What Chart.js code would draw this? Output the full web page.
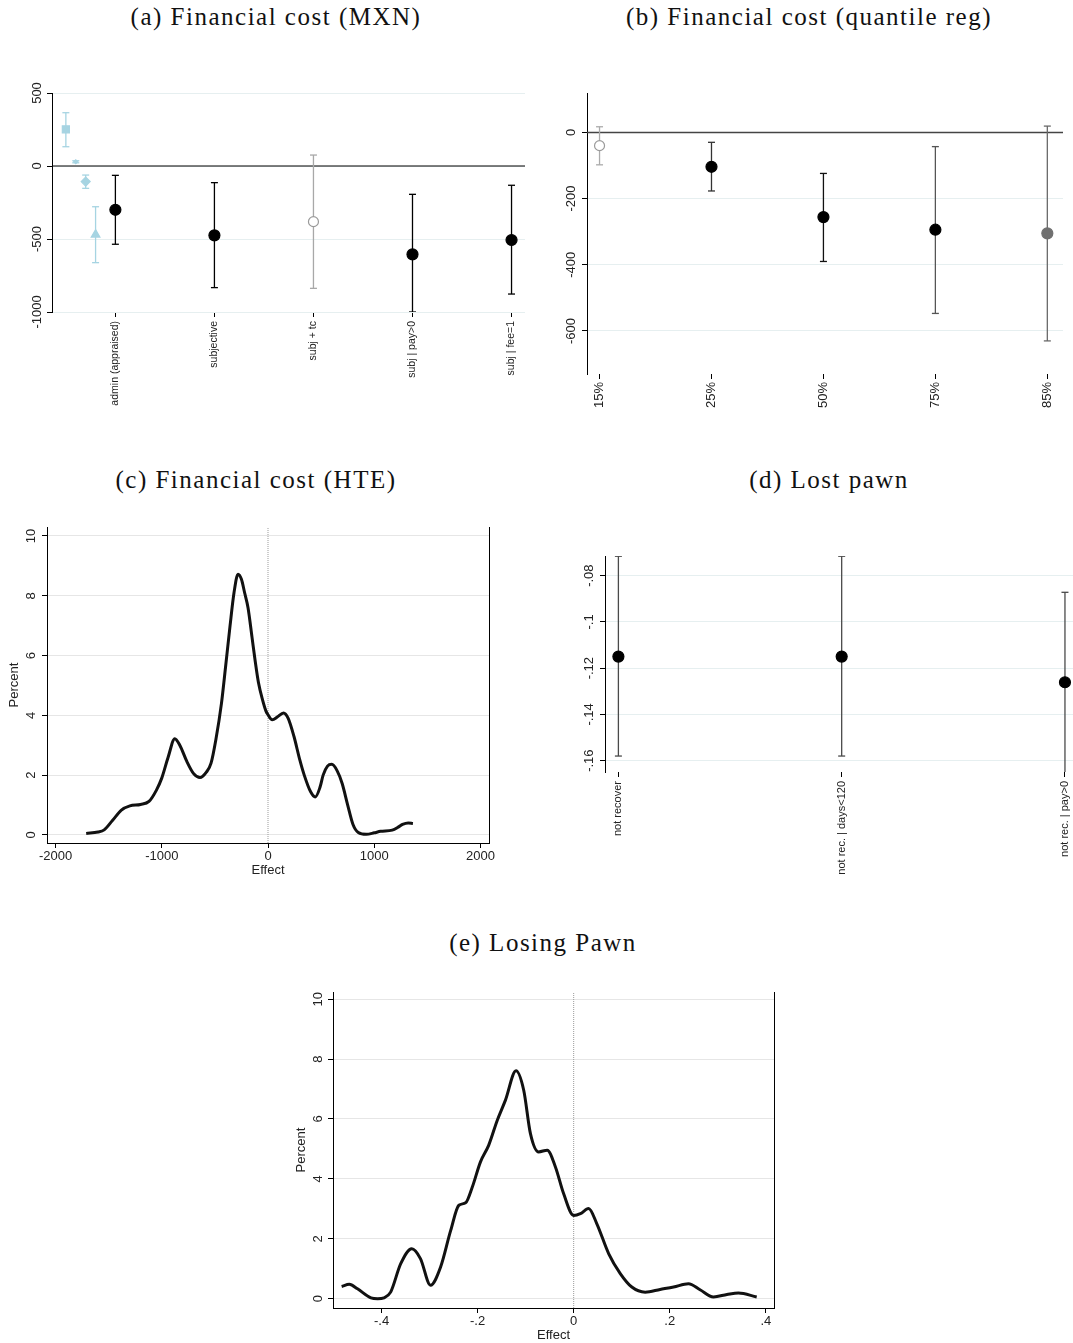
<!DOCTYPE html>
<html lang="en">
<head>
<meta charset="UTF-8" />
<title>Financial cost and lost pawn</title>
<script src="https://cdn.jsdelivr.net/npm/chart.js"></script>
<style>
  body { margin: 0; background: #fff; }
  .page { position: relative; width: 1073px; height: 1343px; overflow: hidden; background: #fff; }
  .panel { position: absolute; }
  .title {
    position: absolute; width: 500px; text-align: center;
    font-family: "Liberation Serif", "Times New Roman", serif;
    font-size: 25px; letter-spacing: 1.5px; line-height: 30px; color: #111;
  }
</style>
</head>
<body>
<div class="page">
  <div class="title" style="left:26px;top:2px">(a) Financial cost (MXN)</div>
  <div class="title" style="left:559px;top:2px">(b) Financial cost (quantile reg)</div>
  <div class="title" style="left:6px;top:465px">(c) Financial cost (HTE)</div>
  <div class="title" style="left:579px;top:465px">(d) Lost pawn</div>
  <div class="title" style="left:293px;top:928px">(e) Losing Pawn</div>

  <canvas id="chartA" class="panel" width="540" height="380" style="left:0;top:60px"></canvas>
  <canvas id="chartB" class="panel" width="533" height="380" style="left:540px;top:60px"></canvas>
  <canvas id="chartC" class="panel" width="540" height="372" style="left:0;top:510px"></canvas>
  <canvas id="chartD" class="panel" width="533" height="340" style="left:540px;top:540px"></canvas>
  <canvas id="chartE" class="panel" width="514" height="368" style="left:286px;top:975px"></canvas>
</div>

<script>
// (a) financial cost in pesos, point estimates with 95% CI
const aCats = ['admin (appraised)', 'subjective', 'subj + tc', 'subj | pay>0', 'subj | fee=1'];
const aCoef = [-300, -475, -381, -605, -507];
const aLo = [-536, -833, -838, -1000, -877];
const aHi = [-64, -114, 75, -194, -132];
// extra light-blue estimates plotted left of the first category
const aAuxX = [0.5, 0.6, 0.7, 0.8];
const aAuxCoef = [251, 29, -107, -470];
const aAuxLo = [132, 22, -153, -662];
const aAuxHi = [365, 36, -62, -279];
const aYTicks = [500, 0, -500, -1000];
const aYLabels = ['500', '0', '-500', '-1000'];

// (b) quantile regressions
const bCats = ['15%', '25%', '50%', '75%', '85%'];
const bCoef = [-40, -104, -256, -294, -305];
const bLo = [-98, -177, -390, -547, -630];
const bHi = [17, -30, -124, -43, 19];
const bYTicks = [0, -200, -400, -600];
const bYLabels = ['0', '-200', '-400', '-600'];

// (c) distribution of heterogeneous effects, financial cost
const cEffect = [-1711, -1600, -1542, -1460, -1380, -1300, -1200, -1120, -1050, -1000, -940, -877, -830, -763, -700,
  -640, -580, -536, -490, -438, -400, -357, -320, -282, -250, -220, -188, -150, -120, -90, -50, -20, 0, 40, 90, 146,
  190, 244, 300, 341, 400, 445, 490, 519, 560, 600, 650, 698, 750, 800, 850, 925, 1000, 1060, 1169, 1230, 1266, 1320, 1364];
const cPercent = [0.05, 0.1, 0.17, 0.5, 0.83, 0.97, 1.02, 1.12, 1.5, 1.9, 2.6, 3.22, 3.0, 2.45, 2.05,
  1.92, 2.1, 2.4, 3.2, 4.4, 5.6, 7.0, 8.1, 8.72, 8.55, 8.1, 7.6, 6.6, 5.8, 5.1, 4.5, 4.15, 4.02, 3.85, 3.95, 4.08,
  3.9, 3.3, 2.5, 2.0, 1.45, 1.27, 1.6, 2.0, 2.3, 2.36, 2.15, 1.72, 1.0, 0.35, 0.08, 0.02, 0.07, 0.12, 0.16, 0.27, 0.35, 0.4, 0.38];
const cXTicks = [-2000, -1000, 0, 1000, 2000];
const cXLabels = ['-2000', '-1000', '0', '1000', '2000'];
const cYTicks = [0, 2, 4, 6, 8, 10];
const cYLabels = ['0', '2', '4', '6', '8', '10'];

// (d) lost pawn
const dCats = ['not recover', 'not rec. | days<120', 'not rec. | pay>0'];
const dCoef = [-0.115, -0.115, -0.1261];
const dLo = [-0.158, -0.158, -0.175];
const dHi = [-0.0716, -0.0716, -0.0872];
const dYTicks = [-0.08, -0.1, -0.12, -0.14, -0.16];
const dYLabels = ['-.08', '-.1', '-.12', '-.14', '-.16'];

// (e) distribution of heterogeneous effects, losing the pawn
const eEffect = [-0.483, -0.467, -0.45, -0.422, -0.408, -0.395, -0.381, -0.36, -0.337, -0.319, -0.298, -0.277, -0.256,
  -0.239, -0.225, -0.211, -0.194, -0.177, -0.159, -0.142, -0.12, -0.104, -0.09, -0.073, -0.055, -0.038, -0.021, 0,
  0.014, 0.031, 0.048, 0.073, 0.097, 0.121, 0.149, 0.18, 0.208, 0.239, 0.263, 0.291, 0.319, 0.343, 0.381];
const ePercent = [0.41, 0.48, 0.33, 0.03, 0.0, 0.03, 0.22, 1.17, 1.67, 1.34, 0.45, 1.06, 2.28,
  3.12, 3.2, 3.73, 4.57, 5.12, 5.96, 6.63, 7.61, 6.96, 5.51, 4.9, 4.96, 4.4, 3.51, 2.78,
  2.84, 3.01, 2.51, 1.5, 0.84, 0.39, 0.22, 0.31, 0.39, 0.5, 0.3, 0.06, 0.14, 0.19, 0.06];
const eXTicks = [-0.4, -0.2, 0, 0.2, 0.4];
const eXLabels = ['-.4', '-.2', '0', '.2', '.4'];
const eYTicks = [0, 2, 4, 6, 8, 10];
const eYLabels = ['0', '2', '4', '6', '8', '10'];

Chart.defaults.font.family = '"Liberation Sans", Arial, Helvetica, sans-serif';
Chart.defaults.font.size = 13;
Chart.defaults.color = '#222';
Chart.defaults.animation = false;
Chart.defaults.plugins.legend.display = false;
Chart.defaults.plugins.tooltip.enabled = false;

const LIGHT_BLUE = '#a6d4e2';
const GRID_BLUE = '#e6eff0';
const GRID_GRAY = '#e6e6e6';

// fixed axis thickness so every plot area lands where it should
function boxSize(size) {
  return function (scale) {
    if (scale.isHorizontal()) scale.height = size; else scale.width = size;
    scale.paddingLeft = scale.paddingRight = scale.paddingTop = scale.paddingBottom = 0;
  };
}
function tickValues(values) {
  return function (scale) { scale.ticks = values.map(v => ({ value: v })); };
}

// y tick labels are written vertically, centred on the tick
function yLabels(values, labels, offset) {
  return {
    id: 'yLabels',
    afterDraw(chart) {
      const scale = chart.scales.y;
      const ctx = chart.ctx;
      ctx.save();
      ctx.font = '13px "Liberation Sans", Arial, sans-serif';
      ctx.fillStyle = '#222';
      ctx.textAlign = 'center';
      ctx.textBaseline = 'middle';
      values.forEach((v, i) => {
        ctx.save();
        ctx.translate(scale.right - offset, scale.getPixelForValue(v));
        ctx.rotate(-Math.PI / 2);
        ctx.fillText(labels[i], 0, 0);
        ctx.restore();
      });
      ctx.restore();
    }
  };
}

const rightFrame = {
  id: 'rightFrame',
  afterDraw(chart) {
    const a = chart.chartArea;
    const ctx = chart.ctx;
    ctx.save();
    ctx.strokeStyle = '#000';
    ctx.lineWidth = 1;
    ctx.beginPath();
    ctx.moveTo(Math.round(a.right) + 0.5, a.top);
    ctx.lineTo(Math.round(a.right) + 0.5, a.bottom);
    ctx.stroke();
    ctx.restore();
  }
};

function ciDatasets(xs, lo, hi, colors) {
  return xs.map((x, i) => ({
    data: [{ x: x, y: lo[i] }, { x: x, y: hi[i] }],
    showLine: true,
    borderColor: colors[i],
    borderWidth: 1.3,
    pointStyle: 'line',
    pointRadius: 3.5,
    pointBorderColor: colors[i],
    pointBorderWidth: 1.3,
    order: 2
  }));
}

function markerDataset(xs, ys, fill, stroke, style, radius) {
  return {
    data: xs.map((x, i) => ({ x: x, y: ys[i] })),
    pointBackgroundColor: fill,
    pointBorderColor: stroke,
    pointStyle: style,
    pointRadius: radius,
    pointBorderWidth: 1.2,
    order: 0
  };
}

function hLine(x0, x1, y, color, width) {
  return {
    data: [{ x: x0, y: y }, { x: x1, y: y }],
    showLine: true, pointRadius: 0, borderColor: color, borderWidth: width, order: 3
  };
}

function vDotted(x, y0, y1) {
  return {
    data: [{ x: x, y: y0 }, { x: x, y: y1 }],
    showLine: true, pointRadius: 0, borderColor: '#9a9a9a', borderWidth: 1, borderDash: [1, 1], order: 3
  };
}

function catAxis(min, max, cats, height, fontSize, pad) {
  return {
    type: 'linear', min: min, max: max,
    afterBuildTicks: tickValues(cats.map((c, i) => i + 1)),
    afterFit: boxSize(height),
    border: { display: false },
    grid: { drawOnChartArea: false, drawTicks: true, tickLength: 5, tickColor: '#000' },
    ticks: {
      autoSkip: false, minRotation: 90, maxRotation: 90, padding: pad,
      font: { size: fontSize }, color: '#222',
      callback: v => cats[v - 1]
    }
  };
}

function valueAxis(min, max, ticks, width, gridColor, title, titlePad) {
  return {
    type: 'linear', min: min, max: max,
    afterBuildTicks: tickValues(ticks),
    afterFit: boxSize(width),
    border: { display: true, color: '#000', width: 1 },
    grid: { color: gridColor, lineWidth: 1, tickLength: 5, tickColor: '#000' },
    ticks: { display: false },
    title: title ? { display: true, text: title, font: { size: 13 }, color: '#222', padding: { top: titlePad, bottom: 0 } } : { display: false }
  };
}

function numAxis(min, max, ticks, labels, height, title, titlePad) {
  return {
    type: 'linear', min: min, max: max,
    afterBuildTicks: tickValues(ticks),
    afterFit: boxSize(height),
    border: { display: true, color: '#000', width: 1 },
    grid: { drawOnChartArea: false, tickLength: 5, tickColor: '#000' },
    ticks: { autoSkip: false, maxRotation: 0, padding: 1, font: { size: 13 }, color: '#222', callback: (v, i) => labels[i] },
    title: { display: true, text: title, font: { size: 13 }, color: '#222', padding: { top: 0, bottom: titlePad } }
  };
}

// ---- (a)
const aXMin = 0.36, aXMax = 5.136;
new Chart(document.getElementById('chartA'), {
  type: 'scatter',
  data: {
    datasets: [
      markerDataset(aCats.map((c, i) => i + 1), aCoef,
        ['#000', '#000', '#fff', '#000', '#000'],
        ['#000', '#000', '#9a9a9a', '#000', '#000'], 'circle', [5.5, 5.5, 5, 5.5, 5.5]),
      markerDataset(aAuxX, aAuxCoef, LIGHT_BLUE, LIGHT_BLUE, ['rect', 'rectRot', 'rectRot', 'triangle'], [5, 2, 4.5, 5]),
      ...ciDatasets(aCats.map((c, i) => i + 1), aLo, aHi, ['#000', '#000', '#a8a8a8', '#000', '#000']),
      ...ciDatasets(aAuxX, aAuxLo, aAuxHi, aAuxX.map(() => LIGHT_BLUE)),
      hLine(aXMin, aXMax, 0, '#000', 1.2)
    ]
  },
  options: {
    responsive: false,
    layout: { autoPadding: false, padding: { top: 33, right: 15, left: 0, bottom: 0 } },
    scales: {
      x: catAxis(aXMin, aXMax, aCats, 128, 10.5, 4),
      y: valueAxis(-1000, 500, aYTicks, 52, GRID_BLUE)
    }
  },
  plugins: [yLabels(aYTicks, aYLabels, 15)]
});

// ---- (b)
const bXMin = 0.888, bXMax = 5.14;
new Chart(document.getElementById('chartB'), {
  type: 'scatter',
  data: {
    datasets: [
      markerDataset(bCats.map((c, i) => i + 1), bCoef,
        ['#fff', '#000', '#000', '#000', '#707070'],
        ['#9a9a9a', '#000', '#000', '#000', '#707070'], 'circle', [5, 5.5, 5.5, 5.5, 5.5]),
      ...ciDatasets(bCats.map((c, i) => i + 1), bLo, bHi, ['#ababab', '#333', '#111', '#555', '#6a6a6a']),
      hLine(bXMin, bXMax, 0, '#444', 1.5)
    ]
  },
  options: {
    responsive: false,
    layout: { autoPadding: false, padding: { top: 33, right: 10, left: 0, bottom: 0 } },
    scales: {
      x: catAxis(bXMin, bXMax, bCats, 66, 13, 3),
      y: valueAxis(-730, 119, bYTicks, 47, GRID_BLUE)
    }
  },
  plugins: [yLabels(bYTicks, bYLabels, 16)]
});

// ---- (c)
new Chart(document.getElementById('chartC'), {
  type: 'scatter',
  data: {
    datasets: [
      {
        data: cEffect.map((x, i) => ({ x: x, y: cPercent[i] })),
        showLine: true, pointRadius: 0, borderColor: '#111', borderWidth: 3,
        cubicInterpolationMode: 'monotone', order: 0
      },
      vDotted(0, -0.27, 10.3)
    ]
  },
  options: {
    responsive: false,
    layout: { autoPadding: false, padding: { top: 17, right: 51, left: 0, bottom: 0 } },
    scales: {
      x: numAxis(-2080, 2080, cXTicks, cXLabels, 39, 'Effect', 4),
      y: valueAxis(-0.27, 10.3, cYTicks, 47, GRID_GRAY, 'Percent', 7)
    }
  },
  plugins: [yLabels(cYTicks, cYLabels, 16), rightFrame]
});

// ---- (d)
const dXMin = 0.94, dXMax = 3.036;
new Chart(document.getElementById('chartD'), {
  type: 'scatter',
  data: {
    datasets: [
      markerDataset(dCats.map((c, i) => i + 1), dCoef, '#000', '#000', 'circle', 5.5),
      ...ciDatasets(dCats.map((c, i) => i + 1), dLo, dHi, ['#4a4a4a', '#4a4a4a', '#4a4a4a'])
    ]
  },
  options: {
    responsive: false,
    layout: { autoPadding: false, padding: { top: 16, right: 0, left: 0, bottom: 0 } },
    scales: {
      x: catAxis(dXMin, dXMax, dCats, 108, 11, 4),
      y: valueAxis(-0.1649, -0.0715, dYTicks, 65, GRID_BLUE)
    }
  },
  plugins: [yLabels(dYTicks, dYLabels, 16)]
});

// ---- (e)
new Chart(document.getElementById('chartE'), {
  type: 'scatter',
  data: {
    datasets: [
      {
        data: eEffect.map((x, i) => ({ x: x, y: ePercent[i] })),
        showLine: true, pointRadius: 0, borderColor: '#111', borderWidth: 3,
        cubicInterpolationMode: 'monotone', order: 0
      },
      vDotted(0, -0.31, 10.24)
    ]
  },
  options: {
    responsive: false,
    layout: { autoPadding: false, padding: { top: 17, right: 26, left: 0, bottom: 0 } },
    scales: {
      x: numAxis(-0.501, 0.417, eXTicks, eXLabels, 35, 'Effect', 0),
      y: valueAxis(-0.31, 10.24, eYTicks, 47, GRID_GRAY, 'Percent', 8)
    }
  },
  plugins: [yLabels(eYTicks, eYLabels, 15), rightFrame]
});
</script>
</body>
</html>
